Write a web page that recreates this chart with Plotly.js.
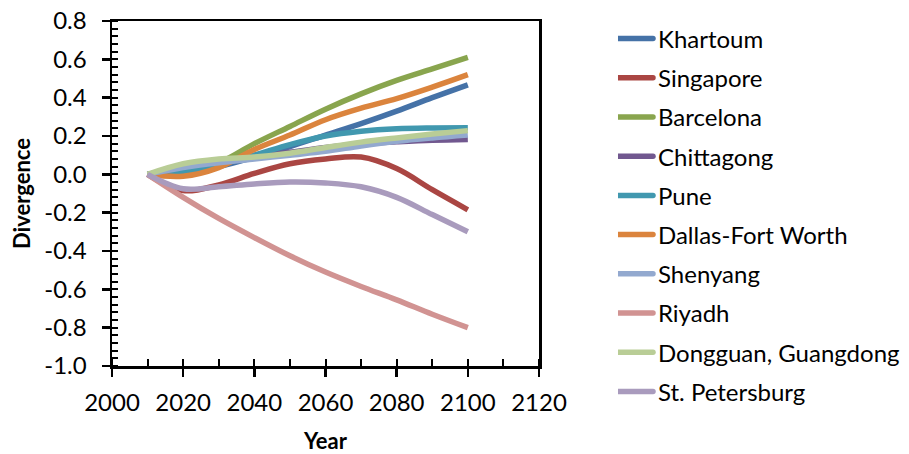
<!DOCTYPE html>
<html>
<head>
<meta charset="utf-8">
<script src="https://cdn.plot.ly/plotly-3.0.1.min.js"></script>
<style>html,body{margin:0;padding:0;background:#fff;}#chart{width:909px;height:454px;}</style>
</head>
<body>
<div id="chart"></div>
<script>
const years = [2010, 2020, 2030, 2040, 2050, 2060, 2070, 2080, 2090, 2100];

const seriesNames = ["Khartoum", "Singapore", "Barcelona", "Chittagong", "Pune",
  "Dallas-Fort Worth", "Shenyang", "Riyadh", "Dongguan, Guangdong", "St. Petersburg"];

const khartoum   = [0, 0.010, 0.040, 0.090, 0.145, 0.205, 0.265, 0.330, 0.400, 0.467];
const singapore  = [0, -0.085, -0.055, 0.005, 0.055, 0.080, 0.090, 0.030, -0.080, -0.185];
const barcelona  = [0, 0.010, 0.060, 0.160, 0.250, 0.340, 0.420, 0.490, 0.550, 0.610];
const chittagong = [0, 0.030, 0.060, 0.090, 0.115, 0.140, 0.160, 0.170, 0.178, 0.182];
const pune       = [0, 0.012, 0.050, 0.100, 0.155, 0.200, 0.225, 0.238, 0.242, 0.243];
const dallas     = [0, -0.010, 0.035, 0.130, 0.205, 0.285, 0.345, 0.395, 0.455, 0.520];
const shenyang   = [0, 0.035, 0.060, 0.080, 0.100, 0.120, 0.148, 0.172, 0.190, 0.205];
const riyadh     = [0, -0.120, -0.230, -0.330, -0.425, -0.510, -0.585, -0.655, -0.730, -0.800];
const dongguan   = [0, 0.055, 0.080, 0.090, 0.110, 0.140, 0.168, 0.190, 0.210, 0.228];
const stPete     = [0, -0.075, -0.065, -0.050, -0.040, -0.045, -0.065, -0.120, -0.210, -0.300];

const seriesValues = [khartoum, singapore, barcelona, chittagong, pune, dallas, shenyang, riyadh, dongguan, stPete];
const seriesColors = ["#4572A7", "#AA4643", "#89A54E", "#71588F", "#4198AF",
  "#DB843D", "#93A9CF", "#D19392", "#B9CD96", "#A99BBD"];

const yTickVals = [-1.0, -0.8, -0.6, -0.4, -0.2, 0.0, 0.2, 0.4, 0.6, 0.8];
const yTickText = ["-1.0", "-0.8", "-0.6", "-0.4", "-0.2", "0.0", "0.2", "0.4", "0.6", "0.8"];
const xTickVals = [2000, 2020, 2040, 2060, 2080, 2100, 2120];
const xTickText = ["2000", "2020", "2040", "2060", "2080", "2100", "2120"];

const FONT = "Lato, 'Open Sans', sans-serif";

const traces = seriesNames.map((name, i) => ({
  type: "scatter",
  mode: "lines",
  name: name,
  legendgroup: name,
  x: years,
  y: seriesValues[i],
  line: {color: seriesColors[i], width: 5.5, shape: "spline", smoothing: 1},
  hoverinfo: "skip"
}));

const axisCommon = {
  showgrid: false,
  zeroline: false,
  showline: true,
  linecolor: "#000",
  linewidth: 2.5,
  mirror: true,
  ticks: "outside",
  ticklen: 8,
  tickwidth: 2.5,
  tickcolor: "#000",
  tickfont: {family: FONT, size: 24, color: "#000"}
};

const layout = {
  width: 909,
  height: 454,
  margin: {l: 112, r: 370, t: 21, b: 88, pad: 0, autoexpand: false},
  paper_bgcolor: "#fff",
  plot_bgcolor: "#fff",
  font: {family: FONT, color: "#000"},
  showlegend: true,
  legend: {
    x: 1.185, xanchor: "left",
    y: 1.013, yanchor: "top",
    font: {family: FONT, size: 24, color: "#000"},
    tracegroupgap: 5,
    maxheight: 1000,
    bgcolor: "rgba(0,0,0,0)"
  },
  xaxis: Object.assign({}, axisCommon, {
    range: [2000, 2120],
    tickmode: "array",
    tickvals: xTickVals,
    ticktext: xTickText,
    ticklabelstandoff: 6,
    automargin: false,
    minor: {tickmode: "linear", tick0: 2000, dtick: 10, ticks: "inside", ticklen: 7, tickwidth: 2, tickcolor: "#000"},
    title: {text: "<b>Year</b>", font: {family: FONT, size: 22, color: "#000"}, standoff: 22}
  }),
  yaxis: Object.assign({}, axisCommon, {
    range: [-1.0, 0.8],
    tickmode: "array",
    tickvals: yTickVals,
    ticktext: yTickText,
    ticklabelstandoff: 10,
    automargin: false,
    minor: {tickmode: "linear", tick0: -1.0, dtick: 0.04, ticks: "inside", ticklen: 6, tickwidth: 2, tickcolor: "#000"},
    title: {text: "<b>Divergence</b>", font: {family: FONT, size: 22, color: "#000"}, standoff: 8}
  }),
  xaxis2: {
    overlaying: "x", anchor: "y", side: "bottom",
    range: [2000, 2120],
    tickmode: "array", tickvals: xTickVals,
    showticklabels: false, showgrid: false, zeroline: false, showline: false,
    ticks: "inside", ticklen: 8, tickwidth: 2.5, tickcolor: "#000"
  },
  yaxis2: {
    overlaying: "y", anchor: "x", side: "left",
    range: [-1.0, 0.8],
    tickmode: "array", tickvals: yTickVals,
    showticklabels: false, showgrid: false, zeroline: false, showline: false,
    ticks: "inside", ticklen: 8, tickwidth: 2.5, tickcolor: "#000"
  }
};

Plotly.newPlot("chart", traces, layout, {staticPlot: true, displayModeBar: false}).then(gd => {
  // lengthen legend line samples to match the reference's long legend keys
  gd.querySelectorAll(".legend .legendlines path").forEach(p => {
    p.setAttribute("d", "M-20,0h55");
    p.style.strokeLinecap = "round";
  });
});
</script>
</body>
</html>
